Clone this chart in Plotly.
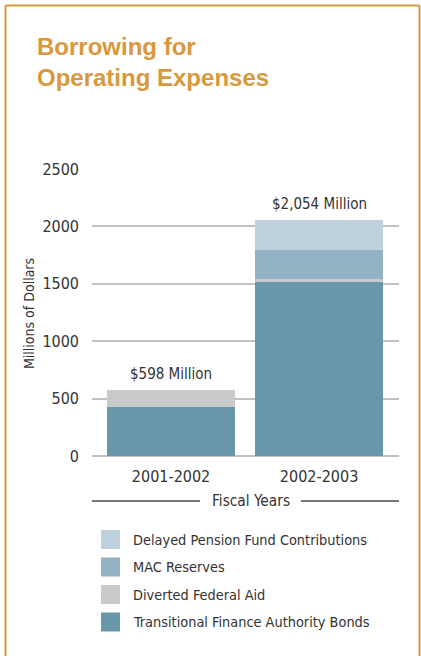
import plotly.graph_objects as go

# ---- data ----
categories = ["2001-2002", "2002-2003"]
series_names = [
    "Transitional Finance Authority Bonds",
    "Diverted Federal Aid",
    "MAC Reserves",
    "Delayed Pension Fund Contributions",
]
tfa_bonds = [425, 1513]
diverted_federal_aid = [148, 32]
mac_reserves = [0, 250]
delayed_pension = [0, 262]
total_labels = ["$598 Million", "$2,054 Million"]
y_ticks = [0, 500, 1000, 1500, 2000, 2500]

series_values = [tfa_bonds, diverted_federal_aid, mac_reserves, delayed_pension]
colors = ["#6997AA", "#C9CACC", "#93B3C4", "#BCD1DC"]

W, H = 421, 656
PL, PR, PT, PB = 92, 399, 169, 456  # plot area in pixels


def px(x):
    return (x - PL) / (PR - PL)


def py(y):
    return (PB - y) / (PB - PT)


FONT = "Liberation Sans Narrow, DejaVu Sans Condensed, Arial Narrow, sans-serif"
TFONT = "Liberation Sans, Arial, Helvetica, sans-serif"
TXT = "#333333"
ORANGE = "#D9983B"

fig = go.Figure()
for name, vals, col in zip(series_names, series_values, colors):
    fig.add_trace(go.Bar(
        x=categories, y=vals, name=name, marker=dict(color=col, line=dict(width=0)),
        width=0.865, showlegend=False, hoverinfo="x+y+name",
    ))

totals = [sum(v[i] for v in series_values) for i in range(len(categories))]
annotations = []
for cat, tot, lab in zip(categories, totals, total_labels):
    annotations.append(dict(x=cat, y=tot, xref="x", yref="y", text=lab, showarrow=False,
                            yanchor="middle", yshift=16, font=dict(family=FONT, size=15, color=TXT)))

# title
annotations.append(dict(x=px(35), y=py(47), xref="paper", yref="paper", text="Borrowing for",
                        showarrow=False, xanchor="left", yanchor="middle",
                        font=dict(family=TFONT, size=24, color=ORANGE, weight="bold")))
annotations.append(dict(x=px(35), y=py(78), xref="paper", yref="paper", text="Operating Expenses",
                        showarrow=False, xanchor="left", yanchor="middle",
                        font=dict(family=TFONT, size=24, color=ORANGE, weight="bold")))
# y axis title
annotations.append(dict(x=px(29), y=py(314), xref="paper", yref="paper", text="Millions of Dollars",
                        showarrow=False, textangle=-90, xanchor="center", yanchor="middle",
                        font=dict(family=FONT, size=14, color=TXT)))
# x axis title
annotations.append(dict(x=px(251), y=py(501), xref="paper", yref="paper", text="Fiscal Years",
                        showarrow=False, xanchor="center", yanchor="middle",
                        font=dict(family=FONT, size=15.3, color=TXT)))

shapes = [
    dict(type="line", xref="paper", yref="paper", x0=px(92), x1=px(200), y0=py(501), y1=py(501),
         line=dict(color="#777777", width=2)),
    dict(type="line", xref="paper", yref="paper", x0=px(301), x1=px(399), y0=py(501), y1=py(501),
         line=dict(color="#777777", width=2)),
    # frame
    dict(type="line", xref="paper", yref="paper", x0=px(5.5), x1=px(5.5), y0=py(5.5), y1=py(700),
         line=dict(color=ORANGE, width=2)),
    dict(type="line", xref="paper", yref="paper", x0=px(5.5), x1=px(419.5), y0=py(5.5), y1=py(5.5),
         line=dict(color=ORANGE, width=2)),
    dict(type="line", xref="paper", yref="paper", x0=px(419.5), x1=px(419.5), y0=py(5.5), y1=py(700),
         line=dict(color=ORANGE, width=2)),
]

# legend (top to bottom: reverse stacking order)
legend_tops = [530, 557.5, 585, 612.5]
for top, name, col in zip(legend_tops, series_names[::-1], colors[::-1]):
    shapes.append(dict(type="rect", xref="paper", yref="paper", x0=px(101), x1=px(120),
                       y0=py(top), y1=py(top + 19), fillcolor=col, line=dict(width=0)))
    annotations.append(dict(x=px(131), y=py(top + 9.5), xref="paper", yref="paper", text=name,
                            showarrow=False, xanchor="left", yanchor="middle",
                            font=dict(family=FONT, size=14.4, color=TXT)))

fig.update_layout(
    width=W, height=H,
    margin=dict(l=PL, r=W - PR, t=PT, b=H - PB, pad=0),
    barmode="stack",
    paper_bgcolor="white", plot_bgcolor="white",
    xaxis=dict(range=[-0.534, 1.54], showgrid=False, showline=False, zeroline=False,
               ticks="", ticklabelstandoff=9,
               tickfont=dict(family=FONT, size=16, color=TXT)),
    yaxis=dict(range=[0, 2500], tickvals=y_ticks, showgrid=True, gridcolor="#C2C2C2", gridwidth=1.5,
               zeroline=True, zerolinecolor="#C2C2C2", zerolinewidth=1.5, showline=False,
               ticks="", ticklabelstandoff=12,
               tickfont=dict(family=FONT, size=16, color=TXT)),
    annotations=annotations, shapes=shapes,
    showlegend=False,
)

fig.write_html("out.html")
